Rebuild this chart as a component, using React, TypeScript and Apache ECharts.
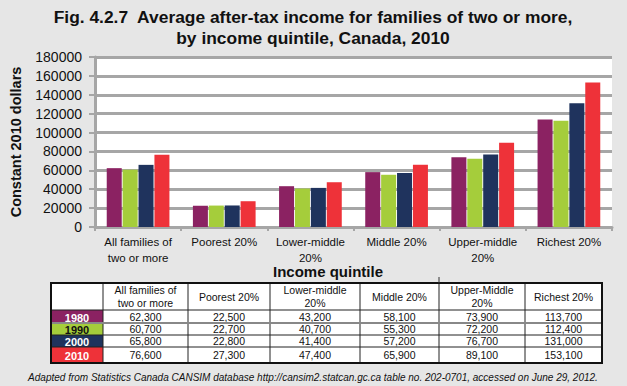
import React, { useEffect, useRef } from "react";
import * as echarts from "echarts";

const categories = [
  "All families of\ntwo or more",
  "Poorest 20%",
  "Lower-middle\n20%",
  "Middle 20%",
  "Upper-middle\n20%",
  "Richest 20%",
];
const tableHeaders = [
  "All families of\ntwo or more",
  "Poorest 20%",
  "Lower-middle\n20%",
  "Middle 20%",
  "Upper-Middle\n20%",
  "Richest 20%",
];
const years = ["1980", "1990", "2000", "2010"];
const values1980 = [62300, 22500, 43200, 58100, 73900, 113700];
const values1990 = [60700, 22700, 40700, 55300, 72200, 112400];
const values2000 = [65800, 22800, 41400, 57200, 76700, 131000];
const values2010 = [76600, 27300, 47400, 65900, 89100, 153100];
const seriesValues = [values1980, values1990, values2000, values2010];
const colors = ["#8B2262", "#A5CD3B", "#1F335D", "#EE3239"];
const yearTextColors = ["#fff", "#111", "#fff", "#fff"];

const titleLine1 = "Fig. 4.2.7  Average after-tax income for families of two or more,";
const titleLine2 = "by income quintile, Canada, 2010";
const yAxisTitle = "Constant 2010 dollars";
const xAxisTitle = "Income quintile";
const sourceText =
  "Adapted from Statistics Canada CANSIM database http://cansim2.statcan.gc.ca table no. 202-0701, accessed on June 29, 2012.";

const FONT = "Liberation Sans, Arial, Helvetica, sans-serif";

export default function App() {
  const ref = useRef<HTMLDivElement>(null);
  useEffect(() => {
    if (!ref.current) return;
    const chart = echarts.init(ref.current, undefined, { renderer: "svg" });

    const colX = [51, 103, 188, 270, 360, 439, 525, 602];
    const tTop = 283;
    const rowY = [310, 323, 335, 347, 363];
    const graphic: any[] = [];
    [titleLine1, titleLine2].forEach((t, k) => {
      graphic.push({
        type: "text",
        x: 313,
        y: 17 + k * 21,
        style: {
          text: t,
          fill: "#111",
          font: `bold 17.4px ${FONT}`,
          textAlign: "center",
          textVerticalAlign: "middle",
        },
      });
    });
    graphic.push({
      type: "rect",
      shape: { x: colX[0], y: tTop, width: colX[7] - colX[0], height: rowY[4] - tTop },
      style: { fill: "#fff", stroke: "none" },
    });
    years.forEach((yr, i) => {
      graphic.push({
        type: "rect",
        shape: { x: colX[0], y: rowY[i], width: colX[1] - colX[0], height: rowY[i + 1] - rowY[i] },
        style: { fill: colors[i] },
      });
      graphic.push({
        type: "text",
        x: (colX[0] + colX[1]) / 2,
        y: (rowY[i] + rowY[i + 1]) / 2 + 1,
        style: {
          text: yr,
          fill: yearTextColors[i],
          font: `bold 11px ${FONT}`,
          textAlign: "center",
          textVerticalAlign: "middle",
        },
      });
      seriesValues[i].forEach((v, j) => {
        graphic.push({
          type: "text",
          x: (colX[j + 1] + colX[j + 2]) / 2,
          y: (rowY[i] + rowY[i + 1]) / 2,
          style: {
            text: v.toLocaleString("en-US"),
            fill: "#111",
            font: `10.5px ${FONT}`,
            textAlign: "center",
            textVerticalAlign: "middle",
          },
        });
      });
    });
    tableHeaders.forEach((h, j) => {
      graphic.push({
        type: "text",
        x: (colX[j + 1] + colX[j + 2]) / 2,
        y: (tTop + rowY[0]) / 2,
        style: {
          text: h,
          fill: "#111",
          font: `10.5px ${FONT}`,
          lineHeight: 13,
          textAlign: "center",
          textVerticalAlign: "middle",
        },
      });
    });
    for (let j = 1; j < colX.length - 1; j++) {
      graphic.push({
        type: "line",
        shape: { x1: colX[j], y1: tTop, x2: colX[j], y2: rowY[4] },
        style: { stroke: "#222", lineWidth: 1 },
      });
    }
    for (let i = 0; i < rowY.length - 1; i++) {
      const isSep = i === 1;
      graphic.push({
        type: "line",
        shape: { x1: colX[0], y1: rowY[i], x2: colX[7], y2: rowY[i] },
        style: { stroke: isSep ? "#888" : "#222", lineWidth: isSep ? 2 : 1 },
      });
    }
    graphic.push({
      type: "rect",
      shape: { x: colX[0], y: tTop, width: colX[7] - colX[0], height: rowY[4] - tTop },
      style: { fill: "none", stroke: "#111", lineWidth: 2 },
    });
    graphic.push({
      type: "line",
      shape: { x1: 439, y1: 277, x2: 439, y2: 283 },
      style: { stroke: "#333", lineWidth: 1 },
    });
    graphic.push({
      type: "text",
      x: 328,
      y: 271,
      style: {
        text: xAxisTitle,
        fill: "#111",
        font: `bold 15px ${FONT}`,
        textAlign: "center",
        textVerticalAlign: "middle",
      },
    });
    graphic.push({
      type: "text",
      x: 313,
      y: 377,
      style: {
        text: sourceText,
        fill: "#111",
        font: `italic 10px ${FONT}`,
        textAlign: "center",
        textVerticalAlign: "middle",
      },
    });

    chart.setOption({
      animation: false,
      backgroundColor: "#E6E6E6",
      grid: {
        left: 93,
        top: 57,
        width: 519,
        height: 170,
        show: true,
        backgroundColor: "#fff",
        borderWidth: 0,
      },
      xAxis: {
        type: "category",
        data: categories,
        axisLine: { show: true, lineStyle: { color: "#A6A6A6", width: 3 } },
        axisTick: { show: true, length: 4, lineStyle: { color: "#A6A6A6", width: 2 } },
        axisLabel: {
          interval: 0,
          color: "#111",
          fontFamily: FONT,
          fontSize: 11.5,
          lineHeight: 16,
          margin: 7,
        },
      },
      yAxis: {
        type: "value",
        min: 0,
        max: 180000,
        interval: 20000,
        name: yAxisTitle,
        nameLocation: "middle",
        nameGap: 72,
        nameRotate: 90,
        nameTextStyle: {
          fontFamily: FONT,
          fontWeight: "bold",
          fontSize: 14.5,
          color: "#111",
        },
        axisLine: { show: true, lineStyle: { color: "#A6A6A6", width: 3 } },
        axisTick: { show: true, length: 6, lineStyle: { color: "#A6A6A6", width: 2 } },
        splitLine: { show: true, lineStyle: { color: "#A6A6A6", width: 3 } },
        axisLabel: {
          color: "#111",
          fontFamily: FONT,
          fontSize: 14,
          margin: 13,
          formatter: (v: number) => String(v),
        },
      },
      series: years.map((yr, i) => ({
        name: yr,
        type: "bar",
        data: seriesValues[i],
        barWidth: 15,
        barGap: "6%",
        itemStyle: { color: colors[i] },
      })),
      graphic,
    });
    return () => chart.dispose();
  }, []);
  return (
    <div
      ref={ref}
      style={{ position: "fixed", left: 0, top: 0, width: 627, height: 386 }}
    />
  );
}
